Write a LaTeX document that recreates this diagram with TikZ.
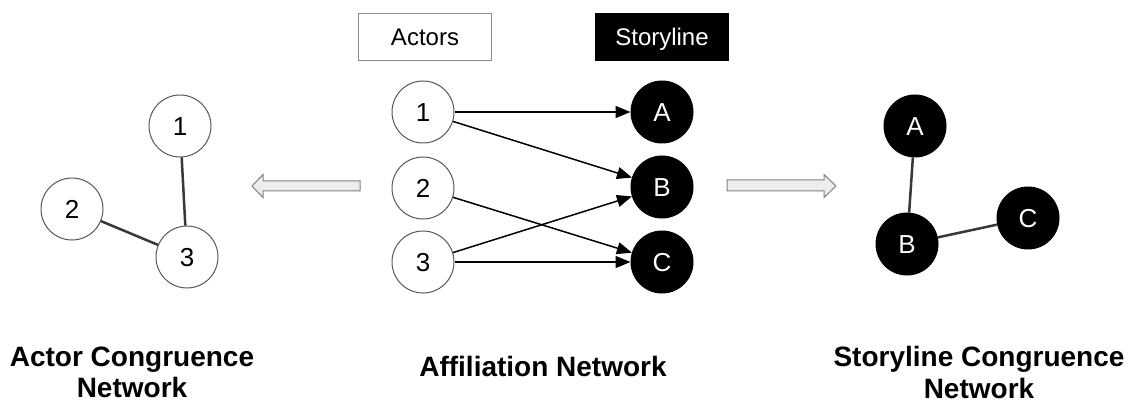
\documentclass[tikz,border=0pt]{standalone}
\usepackage{fontspec}
\setmainfont{Liberation Sans}
\usetikzlibrary{arrows.meta}

\begin{document}
\begin{tikzpicture}[x=1pt,y=-1pt,
  actor/.style={circle,draw=black!65,fill=white,line width=1pt,minimum size=62pt,inner sep=0pt,text height=18.6pt,text depth=0pt,font=\fontsize{26}{30}\selectfont},
  story/.style={actor,draw=black,fill=black,text=white},
  label/.style={minimum width=133pt,minimum height=47pt,text height=17.2pt,text depth=0pt,font=\fontsize{24}{28}\selectfont},
  tie/.style={draw=black!78,line width=2.5pt},
  aff/.style={-{Triangle[length=15pt,width=12pt]},line width=1.5pt},
  hollow/.style={draw=black!50,fill=black!7,line width=1pt},
  caption/.style={font=\fontsize{28}{31.5}\selectfont\bfseries,align=center}]
\useasboundingbox (0,0) rectangle (1131,403);

% affiliation network
\node[label,draw=black!45,line width=1.5pt] (actors) at (425,37) {Actors};
\node[label,draw=black,fill=black,text=white] (storyline) at (662,37) {Storyline};
\node[actor] (a1) at (423,112) {1};
\node[actor] (a2) at (423,188) {2};
\node[actor] (a3) at (423,262) {3};
\node[story] (sA) at (662,112) {A};
\node[story] (sB) at (662,187) {B};
\node[story] (sC) at (662,262) {C};
\draw[aff] (a1) -- (sA);
\draw[aff] (a1) -- (sB);
\draw[aff] (a2) -- (sC);
\draw[aff] (a3) -- (sB);
\draw[aff] (a3) -- (sC);
\node[caption] (affcap) at (543,366) {Affiliation Network};

% projections
\filldraw[hollow] (360,181) -- (263,181) -- (263,174.5) -- (252,186) -- (263,197.5) -- (263,191) -- (360,191) -- cycle;
\filldraw[hollow] (727,180) -- (824,180) -- (824,174.5) -- (836,186) -- (824,197.5) -- (824,191) -- (727,191) -- cycle;

% actor congruence network
\node[actor] (c1) at (180,126) {1};
\node[actor] (c2) at (72,209) {2};
\node[actor] (c3) at (187,257) {3};
\draw[tie] (c1) -- (c3);
\draw[tie] (c2) -- (c3);
\node[caption] (actcap) at (132,372.5) {Actor Congruence\\Network};

% storyline congruence network
\node[story] (dA) at (915,126) {A};
\node[story] (dB) at (907,244) {B};
\node[story] (dC) at (1028,218) {C};
\draw[tie] (dA) -- (dB);
\draw[tie] (dB) -- (dC);
\node[caption] (storcap) at (979,372.5) {Storyline Congruence\\Network};
\end{tikzpicture}
\end{document}
